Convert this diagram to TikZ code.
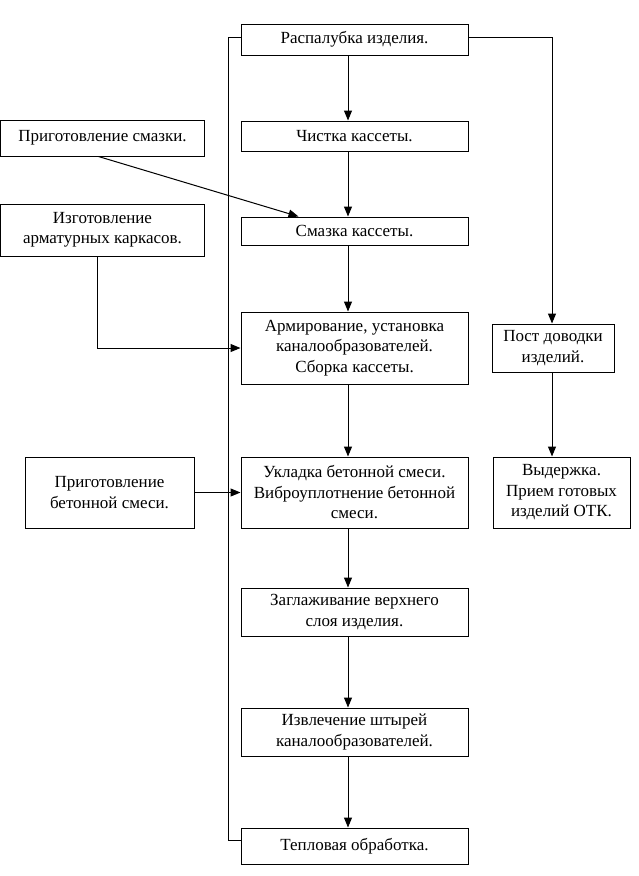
\documentclass[tikz,border=0pt]{standalone}
\usepackage{fontspec}
\setmainfont{Liberation Serif}
\usetikzlibrary{arrows.meta,calc}
\tikzset{
  box/.style={draw,line width=1pt,align=center,inner sep=0pt,font=\fontsize{17}{20.5}\selectfont},
  ln/.style={line width=1pt},
  arr/.style={ln,-{Triangle[length=10pt,width=8pt]}}
}
\begin{document}
\begin{tikzpicture}[x=1pt,y=-1pt]
\useasboundingbox[fill=white] (0,0) rectangle (639,876);
% main column
\node[box,minimum width=227,minimum height=31] (rasp) at (354.5,39.5) {Распалубка изделия.};
\node[box,minimum width=227,minimum height=30] (chist) at (354.5,136) {Чистка кассеты.};
\node[box,minimum width=227,minimum height=28] (smaz) at (354.5,231) {Смазка кассеты.};
\node[box,minimum width=227,minimum height=72] (arm) at (354.5,348) {Армирование, установка\\каналообразователей.\\Сборка кассеты.};
\node[box,minimum width=227,minimum height=71] (ukl) at (354.5,492.5) {Укладка бетонной смеси.\\Виброуплотнение бетонной\\смеси.};
\node[box,minimum width=227,minimum height=48] (zagl) at (354.5,612) {Заглаживание верхнего\\слоя изделия.};
\node[box,minimum width=227,minimum height=48] (izvl) at (354.5,732) {Извлечение штырей\\каналообразователей.};
\node[box,minimum width=227,minimum height=36] (tepl) at (354.5,846) {Тепловая обработка.};
% left column
\node[box,minimum width=203.5,minimum height=36] (prigsm) at (102.5,138) {Приготовление смазки.};
\node[box,minimum width=203.5,minimum height=52] (izgot) at (102.5,230) {Изготовление\\арматурных каркасов.};
\node[box,minimum width=169,minimum height=71] (prigbet) at (109.5,492.5) {Приготовление\\бетонной смеси.};
% right column
\node[box,minimum width=122,minimum height=48] (post) at (553,348) {Пост доводки\\изделий.};
\node[box,minimum width=137,minimum height=71] (vyd) at (561.5,492.5) {Выдержка.\\Прием готовых\\изделий ОТК.};
% helper coordinates
\coordinate (cx) at (348,0);
\coordinate (rx) at (552,0);
\coordinate (lx) at (228,0);
% main flow arrows
\draw[arr] (rasp.south -| cx) -- (chist.north -| cx);
\draw[arr] (chist.south -| cx) -- (smaz.north -| cx);
\draw[arr] (smaz.south -| cx) -- (arm.north -| cx);
\draw[arr] (arm.south -| cx) -- (ukl.north -| cx);
\draw[arr] (ukl.south -| cx) -- (zagl.north -| cx);
\draw[arr] (zagl.south -| cx) -- (izvl.north -| cx);
\draw[arr] (izvl.south -| cx) -- (tepl.north -| cx);
% return loop on the left
\draw[ln] ($(tepl.west)+(0,-6)$) -| (lx |- {$(rasp.west)+(0,-2.5)$}) -- ($(rasp.west)+(0,-2.5)$);
% branch to the right
\draw[arr] ($(rasp.east)+(0,-2.5)$) -| (post.north -| rx);
\draw[arr] (post.south -| rx) -- (vyd.north -| rx);
% side inputs
\draw[arr] ($(prigsm.south)+(-4,0)$) -- ($(smaz.north west)+(58,0)$);
\draw[arr] ($(izgot.south)+(-5,0)$) |- (arm.west);
\draw[arr] (prigbet.east) -- (ukl.west);
\end{tikzpicture}
\end{document}
